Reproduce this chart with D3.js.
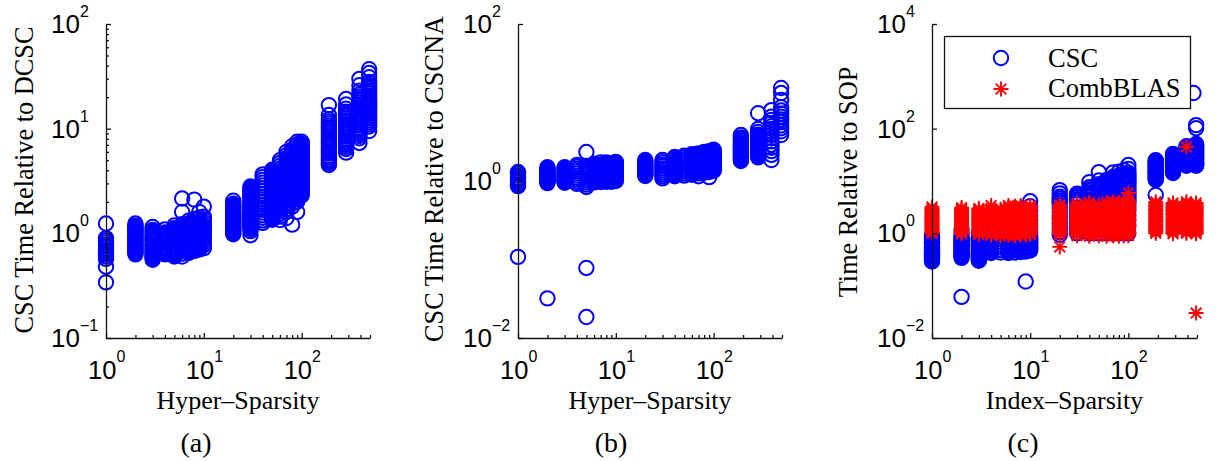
<!DOCTYPE html>
<html><head><meta charset="utf-8">
<script src="https://cdn.jsdelivr.net/npm/d3@7"></script>
<style>body{margin:0;background:#fff}svg{display:block}</style>
</head><body>
<svg id="chart" width="1218" height="461"></svg>
<script>
// ---------------- DATA ----------------
// Panel (a): CSC time relative to DCSC vs hyper-sparsity
const hyperA = [1,2,3,4,5,6,7,8,9,10,20,30,40,50,60,70,80,90,100,190,285,390,490];
const timeA = [
  [0.34,0.48,0.57,0.6,0.63,0.66,0.69,0.72,0.75,0.78,0.82,0.86,0.9,1.24],
  [0.63,0.65,0.67,0.69,0.71,0.73,0.75,0.77,0.79,0.82,0.84,0.87,0.89,0.92,0.94,0.97,1.0,1.03,1.06,1.09,1.12,1.15,1.18,1.24],
  [0.56,0.58,0.6,0.62,0.64,0.66,0.68,0.7,0.72,0.74,0.76,0.78,0.8,0.83,0.85,0.88,0.9,0.93,0.96,0.99,1.02,1.05,1.08,1.15],
  [0.63,0.65,0.67,0.69,0.71,0.73,0.75,0.78,0.8,0.83,0.85,0.88,0.9,0.93,0.96,0.99,1.02,1.09],
  [0.6,0.62,0.64,0.66,0.68,0.7,0.72,0.75,0.77,0.8,0.82,0.85,0.87,0.9,0.93,0.96,0.99,1.02,1.05,1.09,1.12,1.19],
  [0.6,0.64,0.68,0.73,0.78,0.83,0.88,0.94,1.0,1.07,1.14,1.22,1.6,2.15],
  [0.65,0.67,0.69,0.71,0.74,0.76,0.79,0.81,0.84,0.87,0.9,0.93,0.96,0.99,1.02,1.05,1.09,1.12,1.16,1.2,1.24,1.32],
  [0.68,0.72,0.77,0.82,0.87,0.93,0.99,1.06,1.13,1.2,1.28,1.37,2.1],
  [0.7,0.72,0.75,0.77,0.8,0.82,0.85,0.88,0.91,0.94,0.97,1.0,1.03,1.06,1.1,1.13,1.17,1.21,1.25,1.29,1.33,1.42,1.6],
  [0.72,0.77,0.82,0.87,0.93,0.99,1.05,1.12,1.19,1.27,1.35,1.44,1.8],
  [0.98,1.0,1.03,1.06,1.09,1.12,1.15,1.18,1.21,1.25,1.28,1.32,1.35,1.39,1.43,1.47,1.51,1.55,1.6,1.65,1.7,1.75,1.8,1.86,1.92,2.05],
  [0.96,1.05,1.1,1.13,1.16,1.19,1.22,1.25,1.29,1.32,1.36,1.4,1.44,1.48,1.52,1.56,1.61,1.66,1.71,1.76,1.81,1.86,1.92,1.98,2.04,2.1,2.17,2.24,2.31,2.38,2.46,2.54,2.62,2.71,2.8],
  [1.26,1.33,1.41,1.49,1.58,1.67,1.77,1.88,1.99,2.11,2.24,2.38,2.53,2.69,2.86,3.04,3.23,3.44,3.66],
  [1.35,1.39,1.43,1.47,1.52,1.56,1.61,1.66,1.71,1.76,1.82,1.87,1.93,1.99,2.05,2.11,2.18,2.25,2.32,2.39,2.46,2.54,2.62,2.7,2.78,2.87,2.95,3.04,3.14,3.24,3.34,3.44,3.55,3.66,3.78,3.9,4.05],
  [1.34,1.45,1.54,1.64,1.74,1.85,1.97,2.09,2.22,2.36,2.51,2.67,2.84,3.02,3.21,3.42,3.64,3.88,4.13,4.4,4.7,5.0],
  [1.4,1.6,1.7,1.81,1.93,2.05,2.18,2.32,2.47,2.63,2.8,2.98,3.17,3.37,3.59,3.82,4.07,4.33,4.61,4.91,5.23,5.57,6.0],
  [1.21,1.8,1.92,2.05,2.18,2.32,2.47,2.63,2.8,2.98,3.17,3.37,3.59,3.82,4.07,4.33,4.61,4.91,5.23,5.57,5.93,6.32,6.8],
  [1.6,2.0,2.13,2.27,2.42,2.58,2.75,2.93,3.12,3.32,3.54,3.77,4.01,4.27,4.55,4.85,5.17,5.5,5.86,6.24,6.65,7.1,7.5],
  [2.3,2.37,2.45,2.53,2.61,2.69,2.78,2.87,2.96,3.05,3.15,3.25,3.36,3.47,3.58,3.69,3.81,3.93,4.06,4.19,4.32,4.46,4.6,4.75,4.9,5.06,5.22,5.39,5.56,5.74,5.92,6.11,6.3,6.5,6.71,6.93,7.15,7.5],
  [4.5,4.7,4.9,5.1,5.3,5.5,5.8,6.0,6.3,6.6,6.9,7.2,7.5,7.8,8.2,8.6,9.0,9.4,9.8,10.2,10.7,11.2,11.7,12.3,13.5,16.8],
  [5.9,6.4,6.7,7.0,7.3,7.6,8.0,8.4,8.8,9.2,9.6,10.0,10.5,11.0,11.5,12.0,12.6,13.2,13.8,14.5,15.5,17.0,19.2],
  [7.3,8.1,8.5,8.9,9.3,9.7,10.2,10.7,11.2,11.7,12.2,12.8,13.4,14.0,14.7,15.4,16.1,16.9,17.7,18.5,19.4,20.3,21.3,23.0,26.0,29.9],
  [9.5,10.5,11.0,11.5,12.0,12.6,13.2,13.8,14.4,15.1,15.8,16.5,17.3,18.1,19.0,19.9,20.8,21.8,22.8,23.9,25.0,26.2,28.0,31.0,34.0,37.0]
];

// Panel (b): CSC time relative to CSCNA vs hyper-sparsity
const hyperB = [1,2,3,4,5,6,7,8,9,10,20,30,40,50,60,70,80,90,100,190,285,390,490];
const timeB = [
  [0.108,0.86,0.9,0.95,1.0,1.05,1.1,1.17,1.24,1.3],
  [0.032,0.94,0.97,0.99,1.02,1.04,1.07,1.1,1.13,1.16,1.19,1.22,1.26,1.3,1.35,1.4,1.45,1.5],
  [0.95,0.98,1.0,1.03,1.06,1.09,1.12,1.15,1.18,1.21,1.25,1.29,1.33,1.37,1.42,1.46,1.5],
  [0.92,0.98,1.04,1.1,1.17,1.25,1.33,1.42,1.52,1.6],
  [0.0185,0.078,0.84,0.9,0.96,1.02,1.08,1.15,1.22,1.3,1.38,1.47,1.56,2.34],
  [0.96,0.99,1.02,1.05,1.08,1.11,1.15,1.18,1.22,1.26,1.3,1.34,1.38,1.42,1.47,1.51,1.56,1.61,1.66],
  [0.97,1.03,1.1,1.17,1.25,1.33,1.42,1.51,1.61,1.72],
  [0.98,1.01,1.04,1.07,1.1,1.13,1.17,1.21,1.25,1.29,1.33,1.37,1.42,1.47,1.52,1.57,1.62,1.67,1.72],
  [0.98,1.05,1.12,1.2,1.28,1.37,1.46,1.56,1.66],
  [1.0,1.03,1.06,1.1,1.13,1.17,1.2,1.24,1.28,1.32,1.37,1.41,1.46,1.51,1.56,1.61,1.66,1.7,1.75],
  [1.16,1.19,1.22,1.25,1.28,1.31,1.35,1.38,1.42,1.46,1.5,1.54,1.58,1.62,1.67,1.71,1.76,1.85],
  [1.08,1.15,1.22,1.29,1.37,1.45,1.54,1.63,1.73,1.85],
  [1.15,1.18,1.22,1.26,1.3,1.34,1.38,1.42,1.46,1.5,1.55,1.6,1.64,1.69,1.74,1.79,1.85,1.9,1.96,2.02],
  [1.17,1.24,1.32,1.4,1.48,1.57,1.67,1.77,1.88,2.0,2.1],
  [1.2,1.24,1.28,1.32,1.36,1.4,1.44,1.48,1.53,1.58,1.63,1.68,1.73,1.78,1.84,1.9,1.96,2.02,2.08,2.14,2.2],
  [1.15,1.25,1.33,1.41,1.5,1.6,1.7,1.81,1.93,2.05,2.18,2.25],
  [1.28,1.32,1.36,1.4,1.45,1.5,1.54,1.59,1.64,1.69,1.75,1.8,1.86,1.92,1.98,2.04,2.11,2.18,2.25,2.35],
  [1.12,1.3,1.38,1.47,1.56,1.66,1.77,1.88,2.0,2.13,2.27,2.4],
  [1.35,1.39,1.43,1.47,1.52,1.57,1.62,1.67,1.72,1.77,1.83,1.89,1.95,2.01,2.08,2.15,2.22,2.29,2.37,2.44,2.5],
  [1.8,1.88,1.95,2.03,2.1,2.18,2.25,2.33,2.4,2.5,2.6,2.7,2.8,2.9,3.0,3.15,3.3,3.45,3.6,3.85],
  [2.0,2.08,2.15,2.23,2.3,2.4,2.5,2.6,2.7,2.8,2.9,3.0,3.1,3.22,3.35,3.48,3.6,3.75,3.9,4.2,4.6,7.3],
  [1.85,2.15,2.4,2.65,2.9,3.2,3.5,3.85,4.2,4.6,5.0,5.5,6.0,6.6,8.0],
  [3.85,4.3,4.7,5.1,5.6,6.1,6.6,7.2,7.9,8.7,10.8,13.2,15.3]
];

// Panel (c): time relative to SOP vs index-sparsity
const cscIdxC = [1,2,3,4,5,6,7,8,9,10,20,30,40,50,60,70,80,90,100,190,285,390,460,490];
const cscTimeC = [
  [0.29,0.31,0.32,0.34,0.36,0.38,0.4,0.42,0.45,0.47,0.5,0.53,0.56,0.59,0.63,0.66,0.7,0.75,0.8,0.85,0.9],
  [0.061,0.34,0.36,0.38,0.4,0.43,0.45,0.48,0.51,0.54,0.57,0.6,0.64,0.68,0.72,0.76,0.8,0.85,1.0,1.2],
  [0.3,0.32,0.34,0.36,0.38,0.4,0.43,0.45,0.48,0.51,0.54,0.57,0.6,0.64,0.68,0.72,0.76,0.8,0.85,1.0],
  [0.42,0.44,0.47,0.5,0.53,0.56,0.6,0.64,0.68,0.72,0.77,0.82,0.88,0.94,1.0],
  [0.43,0.48,0.54,0.61,0.69,0.78,0.9,1.05],
  [0.42,0.44,0.47,0.5,0.53,0.56,0.6,0.64,0.68,0.72,0.77,0.82,0.9,1.05,1.25],
  [0.43,0.48,0.54,0.61,0.69,0.78,0.9,1.05,1.3],
  [0.44,0.47,0.5,0.53,0.56,0.59,0.63,0.67,0.71,0.75,0.8,0.86,0.92,1.1,1.4],
  [0.12,0.45,0.5,0.56,0.63,0.71,0.8,0.92,1.1,1.4,1.8],
  [0.47,0.5,0.53,0.56,0.6,0.64,0.68,0.72,0.77,0.82,0.88,1.0,1.2,1.45,1.8,2.2,2.7,3.3,4.1],
  [0.93,1.05,1.2,1.4,1.6,1.9,2.2,2.6,3.0,3.5,3.9,4.2,4.6,5.0,5.8,6.7],
  [1.0,1.15,1.3,1.5,1.75,2.0,2.3,2.7,3.1,3.6,3.9,4.2,4.5,4.9,5.3,5.7],
  [1.0,1.2,1.4,1.65,1.9,2.2,2.6,3.0,3.5,3.8,4.1,4.4,4.8,5.2,5.6,6.0,6.5,7.0,7.6,9.5],
  [1.0,1.2,1.45,1.7,2.0,2.4,2.8,3.3,3.6,3.9,4.2,4.6,5.0,5.4,5.8,6.3,6.8,7.4,8.0,8.7,10.2,14.8],
  [1.0,1.25,1.5,1.8,2.1,2.5,2.9,3.4,3.7,4.0,4.3,4.7,5.1,5.5,6.0,6.5,7.0,7.6,8.2,8.9,9.7,10.5],
  [1.0,1.3,1.6,1.9,2.3,2.7,3.2,3.6,4.0,4.4,4.8,5.2,5.7,6.2,6.7,7.3,7.9,8.6,9.3,10.1,11.0,11.9,14.6],
  [1.0,1.3,1.6,2.0,2.4,2.9,3.4,3.8,4.2,4.6,5.0,5.5,6.0,6.5,7.1,7.7,8.4,9.1,9.9,10.8,11.7,12.7,15.0],
  [1.0,1.3,1.7,2.1,2.5,3.0,3.6,4.0,4.4,4.8,5.3,5.8,6.3,6.9,7.5,8.2,8.9,9.7,10.6,11.6,12.6,13.8,16.0],
  [1.0,1.4,1.8,2.2,2.7,3.2,3.8,4.2,4.6,5.0,5.5,6.0,6.6,7.2,7.8,8.5,9.3,10.1,11.0,12.0,13.1,14.4,17.0,20.2],
  [5.4,10.5,11.1,11.7,12.3,13.0,13.7,14.4,15.2,16.0,16.8,17.7,18.7,19.7,20.8,21.9,23.0,24.3,25.0],
  [14.2,15.0,15.8,16.6,17.5,18.4,19.4,20.4,21.5,22.6,23.8,25.0,26.3,27.7,29.2,30.7,33.0],
  [19.5,20.5,21.6,22.7,23.9,25.1,26.4,27.8,29.3,30.8,32.4,34.1,35.9,37.8,39.8,41.9,44.0,46.0],
  [480],
  [19.5,20.5,21.6,22.7,23.9,25.1,26.4,27.8,29.3,30.8,32.4,34.1,35.9,37.8,39.8,41.9,44.0,46.0,48.5,51.0,102,117]
];
const blasIdxC = [1,2,3,4,5,6,7,8,9,10,20,30,40,50,60,70,80,90,100,190,285,390,490];
const blasTimeC = [
  [1.0,1.06,1.12,1.18,1.25,1.32,1.4,1.48,1.57,1.66,1.76,1.86,1.97,2.08,2.2,2.33,2.47,2.62,2.8,3.0,3.2],
  [0.98,1.04,1.1,1.16,1.23,1.3,1.38,1.46,1.55,1.64,1.74,1.84,1.95,2.06,2.18,2.31,2.45,2.6,2.75,2.92,3.1],
  [0.95,1.01,1.07,1.13,1.2,1.27,1.35,1.42,1.5,1.59,1.68,1.78,1.88,1.99,2.1,2.22,2.35,2.5,2.65,2.82,3.0],
  [0.92,0.97,1.03,1.09,1.15,1.22,1.29,1.37,1.45,1.53,1.62,1.72,1.82,1.93,2.04,2.16,2.3,2.45,2.6,2.8,3.0,3.4],
  [0.9,0.95,1.01,1.07,1.13,1.2,1.27,1.34,1.42,1.51,1.6,1.7,1.8,1.91,2.02,2.14,2.27,2.4,2.55,2.72,2.9],
  [0.92,0.97,1.03,1.09,1.15,1.22,1.29,1.37,1.45,1.53,1.62,1.72,1.82,1.93,2.04,2.16,2.3,2.45,2.6,2.78,2.95,3.15,3.4],
  [0.9,0.95,1.01,1.07,1.13,1.2,1.27,1.34,1.42,1.51,1.6,1.7,1.8,1.91,2.02,2.14,2.27,2.4,2.55,2.72,2.9,3.1,3.3],
  [0.93,0.98,1.04,1.1,1.17,1.24,1.31,1.39,1.47,1.56,1.65,1.75,1.85,1.96,2.08,2.2,2.34,2.48,2.63,2.8,3.0,3.2,3.4],
  [0.92,0.97,1.03,1.09,1.15,1.22,1.29,1.37,1.45,1.53,1.62,1.72,1.82,1.93,2.04,2.16,2.3,2.45,2.6,2.78,2.95],
  [0.95,1.01,1.07,1.13,1.2,1.27,1.35,1.42,1.5,1.59,1.68,1.78,1.88,1.99,2.1,2.22,2.35,2.5,2.65,2.82,3.0,3.2,3.4],
  [0.55,0.95,1.01,1.07,1.13,1.2,1.27,1.35,1.42,1.5,1.59,1.68,1.78,1.88,1.99,2.1,2.22,2.35,2.5,2.65,2.82,3.0,3.25,3.5],
  [0.9,0.95,1.01,1.07,1.13,1.2,1.27,1.34,1.42,1.51,1.6,1.7,1.8,1.91,2.02,2.14,2.27,2.4,2.55,2.72,2.9,3.1,3.3,3.5,3.7],
  [0.88,0.93,0.99,1.05,1.11,1.18,1.25,1.32,1.4,1.48,1.57,1.66,1.76,1.86,1.97,2.09,2.21,2.34,2.48,2.63,2.78,2.95,3.12,3.3,3.5,3.7,3.9],
  [0.9,0.95,1.0,1.06,1.12,1.19,1.26,1.33,1.41,1.49,1.58,1.67,1.77,1.87,1.98,2.1,2.22,2.35,2.49,2.64,2.79,2.96,3.13,3.3,3.5],
  [0.88,0.99,1.11,1.25,1.4,1.57,1.76,1.97,2.21,2.48,2.78,3.12,3.5,3.9],
  [0.9,0.95,1.0,1.06,1.12,1.19,1.26,1.33,1.41,1.49,1.58,1.67,1.77,1.87,1.98,2.1,2.22,2.35,2.49,2.64,2.79,2.96,3.13,3.3,3.5,3.75,4.0],
  [0.88,0.99,1.11,1.25,1.4,1.57,1.76,1.97,2.21,2.48,2.78,3.12,3.5,3.9],
  [0.9,0.95,1.0,1.06,1.12,1.19,1.26,1.33,1.41,1.49,1.58,1.67,1.77,1.87,1.98,2.1,2.22,2.35,2.49,2.64,2.79,2.96,3.13,3.3,3.5,3.8,4.1],
  [0.9,0.95,1.01,1.07,1.13,1.2,1.27,1.34,1.42,1.51,1.6,1.7,1.8,1.91,2.02,2.14,2.27,2.4,2.55,2.72,2.9,3.1,3.3,3.5,3.75,4.0,4.3,5.9],
  [1.0,1.07,1.15,1.23,1.32,1.41,1.5,1.61,1.72,1.84,1.97,2.1,2.25,2.42,2.6,2.8,3.0,3.22,3.45,3.7,4.0],
  [0.98,1.05,1.12,1.2,1.28,1.37,1.46,1.56,1.67,1.78,1.9,2.04,2.18,2.34,2.5,2.67,2.85,3.04,3.25,3.5,3.8],
  [1.0,1.07,1.15,1.23,1.32,1.41,1.5,1.61,1.72,1.84,1.97,2.1,2.25,2.42,2.6,2.8,3.0,3.22,3.45,3.7,4.0,45],
  [0.03,0.98,1.05,1.12,1.2,1.28,1.37,1.46,1.56,1.67,1.78,1.9,2.04,2.18,2.34,2.5,2.67,2.85,3.04,3.25,3.5,3.8]
];

// Axis tick exponents / labels
const expA = [-1,0,1,2];
const expB = [-2,0,2];
const expC = [-2,0,2,4];
const expX = [0,1,2];
const xMinor = [2,3,4,5,6,7,8,9,20,30,40,50,60,70,80,90,200,300,400,500];
const yMinorA = [0.2,0.3,0.4,0.5,0.6,0.7,0.8,0.9,2,3,4,5,6,7,8,9,20,30,40,50,60,70,80,90];
const legendLabels = ["CSC", "CombBLAS"];

// ---------------- DRAWING ----------------
const svg = d3.select('#chart');
const SERIF = '"Liberation Serif","Times New Roman",serif';
const SANS = '"Liberation Sans",Arial,Helvetica,sans-serif';
const BLUE = '#0000ff', RED = '#ff0000';
const R = 7.2, SW = 2.0, SSW = 1.9;

function flatten(xs, ys) {
  const out = [];
  xs.forEach((xv, i) => ys[i].forEach(v => out.push({x: xv, y: v})));
  return out;
}

const starPath = 'M-7.5,0H7.5M0,-7.5V7.5M-5.3,-5.3L5.3,5.3M-5.3,5.3L5.3,-5.3';

function panel(cfg) {
  const x = d3.scaleLog().domain([1, 500]).range([cfg.left, cfg.right]);
  const y = d3.scaleLog().domain(cfg.yDomain).range([338, 24]);
  const g = svg.append('g');

  cfg.circles.forEach(s => {
    g.append('g').selectAll('circle').data(flatten(s[0], s[1])).join('circle')
      .attr('cx', d => x(d.x)).attr('cy', d => y(d.y)).attr('r', R)
      .attr('fill', 'none').attr('stroke', BLUE).attr('stroke-width', SW);
  });
  (cfg.stars || []).forEach(s => {
    g.append('g').selectAll('path').data(flatten(s[0], s[1])).join('path')
      .attr('transform', d => `translate(${x(d.x)},${y(d.y)})`)
      .attr('d', starPath).attr('fill', 'none').attr('stroke', RED).attr('stroke-width', SSW);
  });

  // axes (inward ticks)
  const axG = svg.append('g');
  axG.append('g').attr('transform', 'translate(0,338)')
    .call(d3.axisBottom(x).tickValues(expX.map(e => Math.pow(10, e))).tickSize(-5).tickSizeOuter(0).tickFormat(''));
  axG.append('g').attr('transform', 'translate(0,338)')
    .call(d3.axisBottom(x).tickValues(xMinor).tickSize(-3).tickSizeOuter(0).tickFormat(''))
    .select('.domain').remove();
  axG.append('g').attr('transform', `translate(${cfg.left},0)`)
    .call(d3.axisLeft(y).tickValues(cfg.yExp.map(e => Math.pow(10, e))).tickSize(-5).tickSizeOuter(0).tickFormat(''));
  if (cfg.yMinor) {
    axG.append('g').attr('transform', `translate(${cfg.left},0)`)
      .call(d3.axisLeft(y).tickValues(cfg.yMinor).tickSize(-3).tickSizeOuter(0).tickFormat(''))
      .select('.domain').remove();
  }
  axG.selectAll('path.domain, line').attr('stroke', '#111').attr('stroke-width', 1.3);

  // y tick labels
  cfg.yExp.forEach(e => {
    const t = svg.append('text').attr('x', cfg.left - 55).attr('y', y(Math.pow(10, e)) + 9)
      .attr('font-family', SANS).attr('font-size', 26).attr('fill', '#000');
    t.append('tspan').text('10');
    t.append('tspan').attr('dy', -16).attr('font-size', 16).text(e < 0 ? '\u2212' + (-e) : String(e));
  });
  // x tick labels
  expX.forEach(e => {
    const t = svg.append('text').attr('x', x(Math.pow(10, e)) - 18).attr('y', 379)
      .attr('font-family', SANS).attr('font-size', 25.5).attr('fill', '#000');
    t.append('tspan').text('10');
    t.append('tspan').attr('dy', -17).attr('font-size', 16).text(String(e));
  });

  // axis titles
  svg.append('text').attr('x', (cfg.left + cfg.right) / 2).attr('y', 409)
    .attr('text-anchor', 'middle').attr('font-family', SERIF).attr('font-size', 26)
    .text(cfg.xTitle);
  svg.append('text').attr('transform', `translate(${cfg.yTitleX},${cfg.yTitleY}) rotate(-90)`)
    .attr('text-anchor', 'middle').attr('font-family', SERIF).attr('font-size', 26.3)
    .text(cfg.yTitle);
  svg.append('text').attr('x', cfg.capX).attr('y', 452)
    .attr('text-anchor', 'middle').attr('font-family', SERIF).attr('font-size', 28)
    .text(cfg.caption);
  return {x, y};
}

panel({left: 106, right: 370, yDomain: [0.1, 100], yExp: expA, yMinor: yMinorA,
  circles: [[hyperA, timeA]], xTitle: 'Hyper\u2013Sparsity', yTitle: 'CSC Time Relative to DCSC',
  yTitleX: 33, yTitleY: 180, capX: 196, caption: '(a)'});
panel({left: 518, right: 782, yDomain: [0.01, 100], yExp: expB,
  circles: [[hyperB, timeB]], xTitle: 'Hyper\u2013Sparsity', yTitle: 'CSC Time Relative to CSCNA',
  yTitleX: 443, yTitleY: 179, capX: 611, caption: '(b)'});
panel({left: 932, right: 1197, yDomain: [0.01, 10000], yExp: expC,
  circles: [[cscIdxC, cscTimeC]], stars: [[blasIdxC, blasTimeC]],
  xTitle: 'Index\u2013Sparsity', yTitle: 'Time Relative to SOP',
  yTitleX: 857, yTitleY: 182, capX: 1023, caption: '(c)'});

// legend (panel c)
const lg = svg.append('g');
lg.append('rect').attr('x', 944.5).attr('y', 36.5).attr('width', 246).attr('height', 72)
  .attr('fill', '#fff').attr('stroke', '#111').attr('stroke-width', 1.3);
lg.append('circle').attr('cx', 1001).attr('cy', 58).attr('r', R)
  .attr('fill', 'none').attr('stroke', BLUE).attr('stroke-width', SW);
lg.append('path').attr('transform', 'translate(1001,89)').attr('d', starPath)
  .attr('fill', 'none').attr('stroke', RED).attr('stroke-width', SSW);
lg.selectAll('text.lab').data(legendLabels).join('text').attr('class', 'lab')
  .attr('x', 1048).attr('y', (d, i) => 67 + i * 30)
  .attr('font-family', SERIF).attr('font-size', 26.5).text(d => d);
</script>
</body></html>
